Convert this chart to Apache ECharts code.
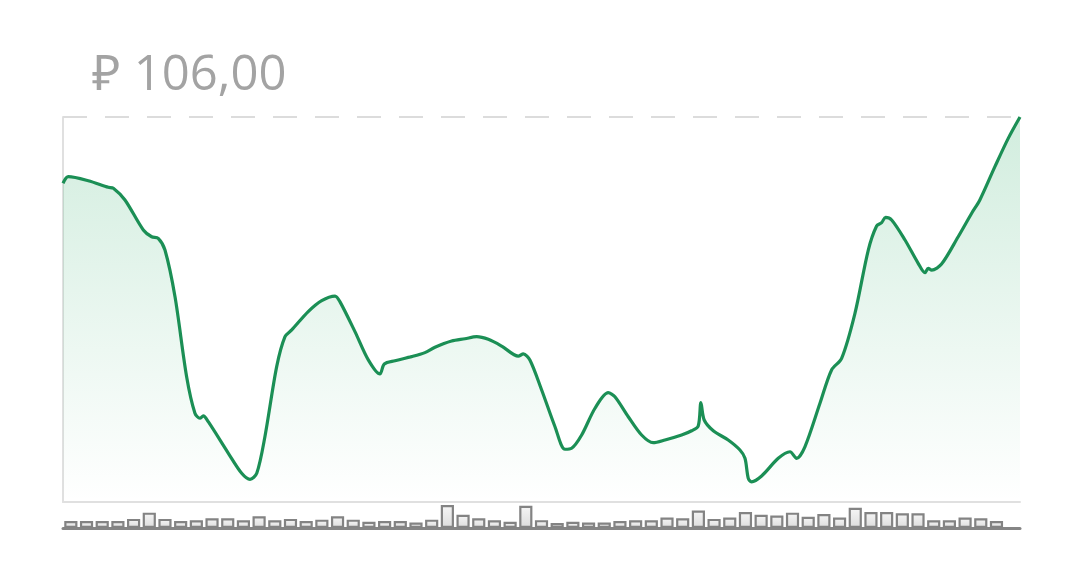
<!DOCTYPE html>
<html>
<head>
<meta charset="utf-8">
<script src="https://cdn.jsdelivr.net/npm/echarts@6/dist/echarts.min.js"></script>
<style>
html,body{margin:0;padding:0;background:#fff;}
#chart{width:1080px;height:573px;}
</style>
</head>
<body>
<div id="chart"></div>
<script>
// Price line: time position (in days) and price
const lineT = [0, 0.34, 1.61, 2.89, 3.21, 3.95, 5.12, 5.65, 6.07, 6.50, 7.14, 7.88, 8.41, 8.73, 8.94, 9.26,
  10.54, 11.39, 11.92, 12.35, 12.87, 13.62, 14.15, 14.58, 15.63, 16.49, 17.34, 17.65, 18.61, 19.46, 20.20,
  20.48, 21.16, 22.22, 23.07, 23.71, 24.77, 25.62, 26.37, 27.11, 27.96, 29.02, 29.34, 29.76, 30.51, 31.36,
  32.00, 32.42, 33.06, 33.91, 34.75, 35.18, 36.03, 36.88, 37.62, 38.37, 39.43, 40.07, 40.49, 40.66, 40.87,
  41.45, 42.40, 43.15, 43.47, 43.68, 43.89, 44.53, 45.59, 46.34, 46.76, 47.29, 48.25, 48.99, 49.63, 50.48,
  51.33, 51.86, 52.18, 52.43, 52.82, 53.67, 54.51, 54.94, 55.15, 55.37, 56.00, 57.06, 57.92, 58.44, 59.40,
  60.25, 61.0];
const linePrice = [102.56, 102.90, 102.69, 102.35, 102.30, 101.69, 100.13, 99.78, 99.70, 99.09, 96.66, 92.51,
  90.61, 90.35, 90.47, 90.17, 88.53, 87.49, 87.18, 87.49, 89.39, 93.03, 94.59, 94.94, 95.89, 96.46, 96.70,
  96.41, 94.85, 93.38, 92.65, 93.17, 93.34, 93.55, 93.76, 94.04, 94.36, 94.48, 94.59, 94.45, 94.10, 93.58,
  93.69, 93.38, 91.82, 89.91, 88.74, 88.79, 89.48, 90.87, 91.68, 91.47, 90.43, 89.48, 89.08, 89.22, 89.48,
  89.70, 89.95, 91.16, 90.26, 89.70, 89.22, 88.70, 88.27, 87.23, 87.05, 87.35, 88.27, 88.61, 88.27, 88.87,
  91.13, 92.86, 93.46, 95.80, 99.09, 100.34, 100.51, 100.79, 100.65, 99.61, 98.40, 97.91, 98.14, 98.05,
  98.36, 99.78, 101.00, 101.69, 103.42, 104.89, 106.00];
// Daily volume bars (61 slots, last one empty)
const volume = [6.7, 6.7, 6.7, 6.7, 8.7, 14.7, 8.7, 6.7, 7.3, 9.3, 9.3, 7.3, 11.3, 7.3, 8.7, 6.7, 8, 11.3, 8, 6,
  6.7, 6.7, 5.3, 8, 22, 12.7, 9.3, 7.3, 6, 21.3, 7.5, 4.7, 6, 5.3, 5.3, 6.7, 7.3, 7.3, 10, 9.3, 16.7, 8.7, 10,
  15.3, 12.7, 12, 14.7, 10.7, 13.3, 10, 19.3, 15.3, 15.3, 14, 14, 7.3, 7.3, 10, 9.3, 6.7, '-'];
const dayLabels = volume.map((v, i) => String(i + 1));

const priceMin = 86;
const priceMax = Math.max(...linePrice);
const lineData = lineT.map((t, i) => [t, linePrice[i]]);
const titleText = '₽ ' + priceMax.toFixed(2).replace('.', ',');

const chart = echarts.init(document.getElementById('chart'));
chart.setOption({
  animation: false,
  backgroundColor: '#ffffff',
  title: {
    text: titleText,
    left: 87,
    top: 47,
    textStyle: { fontFamily: 'Open Sans', fontSize: 49, fontWeight: 'normal', color: '#a3a3a3' }
  },
  grid: [
    { left: 63, right: 60, top: 117, bottom: 71 },
    { left: 63, right: 60, top: 505, bottom: 45 }
  ],
  xAxis: [
    { type: 'value', gridIndex: 0, min: 0, max: 61,
      axisLine: { show: true, lineStyle: { color: '#e0e0e0', width: 2 } },
      axisTick: { show: false }, axisLabel: { show: false }, splitLine: { show: false } },
    { type: 'category', gridIndex: 1, data: dayLabels, boundaryGap: true,
      axisLine: { show: true, lineStyle: { color: '#858585', width: 3 } },
      axisTick: { show: false }, axisLabel: { show: false }, splitLine: { show: false } }
  ],
  yAxis: [
    { type: 'value', gridIndex: 0, min: priceMin, max: priceMax,
      axisLine: { show: true, lineStyle: { color: '#e0e0e0', width: 2 } },
      axisTick: { show: false }, axisLabel: { show: false }, splitLine: { show: false } },
    { type: 'value', gridIndex: 1, min: 0, max: 22,
      axisLine: { show: false }, axisTick: { show: false }, axisLabel: { show: false }, splitLine: { show: false } }
  ],
  series: [
    {
      type: 'line', xAxisIndex: 0, yAxisIndex: 0, data: lineData,
      smooth: 0.3, showSymbol: false, symbol: 'none',
      lineStyle: { color: '#1b8f55', width: 3.2 },
      areaStyle: {
        color: new echarts.graphic.LinearGradient(0, 0, 0, 1, [
          { offset: 0, color: 'rgba(40,170,100,0.30)' },
          { offset: 1, color: 'rgba(40,170,100,0.0)' }
        ])
      },
      markLine: {
        silent: true, symbol: 'none', label: { show: false },
        lineStyle: { color: '#dcdcdc', width: 2, type: [24, 18] },
        data: [{ yAxis: priceMax }]
      },
      z: 3
    },
    {
      type: 'bar', xAxisIndex: 1, yAxisIndex: 1, data: volume,
      barCategoryGap: '16%',
      itemStyle: {
        color: new echarts.graphic.LinearGradient(0, 0, 0, 1, [
          { offset: 0, color: '#f6f6f6' },
          { offset: 1, color: '#dcdcdc' }
        ]),
        borderColor: '#838383', borderWidth: 2.2
      }
    }
  ]
});
</script>
</body>
</html>
